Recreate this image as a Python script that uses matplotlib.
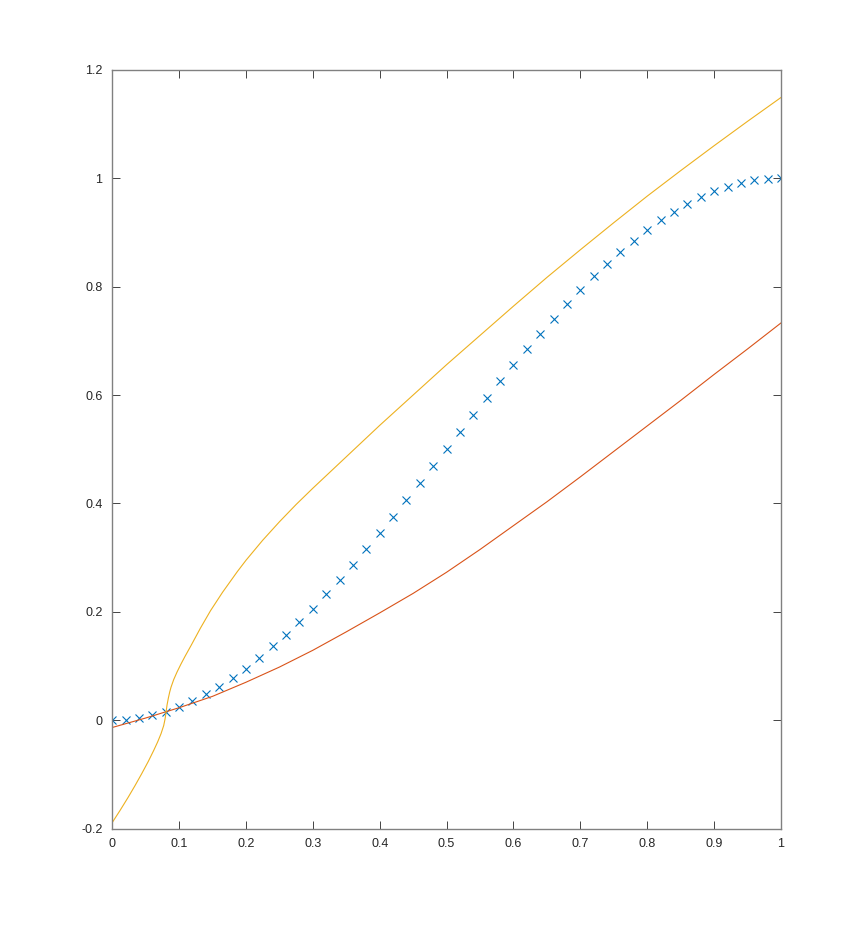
import matplotlib
matplotlib.use("Agg")
import matplotlib.pyplot as plt
from matplotlib.ticker import FormatStrFormatter

plt.rcParams['font.family'] = ['Liberation Sans', 'DejaVu Sans']

# sampled points (blue crosses)
x_pts = [0.00, 0.02, 0.04, 0.06, 0.08, 0.10, 0.12, 0.14, 0.16, 0.18,
         0.20, 0.22, 0.24, 0.26, 0.28, 0.30, 0.32, 0.34, 0.36, 0.38,
         0.40, 0.42, 0.44, 0.46, 0.48, 0.50, 0.52, 0.54, 0.56, 0.58,
         0.60, 0.62, 0.64, 0.66, 0.68, 0.70, 0.72, 0.74, 0.76, 0.78,
         0.80, 0.82, 0.84, 0.86, 0.88, 0.90, 0.92, 0.94, 0.96, 0.98, 1.00]
y_pts = [0.000, 0.001, 0.004, 0.009, 0.016, 0.024, 0.035, 0.048, 0.062, 0.078,
         0.095, 0.115, 0.136, 0.158, 0.181, 0.206, 0.232, 0.259, 0.287, 0.316,
         0.345, 0.375, 0.406, 0.437, 0.469, 0.500, 0.531, 0.563, 0.594, 0.625,
         0.655, 0.684, 0.713, 0.741, 0.768, 0.794, 0.819, 0.842, 0.864, 0.885,
         0.905, 0.922, 0.938, 0.952, 0.965, 0.976, 0.984, 0.991, 0.996, 0.999, 1.000]

# lower curve (red)
x_low = [0.00, 0.05, 0.10, 0.15, 0.20, 0.25, 0.30, 0.35, 0.40, 0.45, 0.50,
         0.55, 0.60, 0.65, 0.70, 0.75, 0.80, 0.85, 0.90, 0.95, 1.00]
y_low = [-0.0135, 0.004, 0.023, 0.044, 0.070, 0.098, 0.129, 0.163, 0.198, 0.234, 0.273,
         0.315, 0.359, 0.403, 0.449, 0.496, 0.543, 0.590, 0.638, 0.685, 0.733]

# upper curve (orange)
x_up = [0.000, 0.012, 0.024, 0.034, 0.044, 0.054, 0.062, 0.068, 0.073, 0.077,
        0.079, 0.080, 0.081, 0.082, 0.084, 0.086, 0.088, 0.092, 0.097, 0.103,
        0.109, 0.118, 0.132, 0.147, 0.165, 0.187, 0.200, 0.225, 0.250, 0.275,
        0.300, 0.350, 0.400, 0.450, 0.500, 0.550, 0.600, 0.650, 0.700, 0.750,
        0.800, 0.850, 0.900, 0.950, 1.000]
y_up = [-0.189, -0.166, -0.142, -0.121, -0.099, -0.076, -0.056, -0.040, -0.025, -0.010,
        0.002, 0.010, 0.019, 0.028, 0.041, 0.052, 0.061, 0.075, 0.089, 0.104,
        0.118, 0.138, 0.170, 0.202, 0.236, 0.274, 0.295, 0.332, 0.366, 0.398,
        0.428, 0.486, 0.544, 0.600, 0.656, 0.710, 0.764, 0.817, 0.868, 0.918,
        0.967, 1.014, 1.060, 1.105, 1.149]

fig = plt.figure(figsize=(8.63, 9.31), dpi=100)
ax = fig.add_axes([0.13, 0.11, 0.775, 0.815])

ax.plot(x_pts, y_pts, 'x', color='#0072BD', markersize=6, markeredgewidth=0.8)
ax.plot(x_low, y_low, '-', color='#D95319', linewidth=0.8)
ax.plot(x_up, y_up, '-', color='#EDB120', linewidth=0.8)

ax.set_xlim(0, 1)
ax.set_ylim(-0.2, 1.2)
ax.set_xticks([0, 0.1, 0.2, 0.3, 0.4, 0.5, 0.6, 0.7, 0.8, 0.9, 1])
ax.set_yticks([-0.2, 0, 0.2, 0.4, 0.6, 0.8, 1, 1.2])
ax.xaxis.set_major_formatter(FormatStrFormatter('%g'))
ax.yaxis.set_major_formatter(FormatStrFormatter('%g'))

ax.tick_params(direction='in', length=6, width=0.6, color='#262626',
               labelsize=9, labelcolor='#262626', pad=7,
               top=True, right=True)
for s in ax.spines.values():
    s.set_color('#808080')
    s.set_linewidth(1.0)

fig.savefig('out.png', dpi=100)
